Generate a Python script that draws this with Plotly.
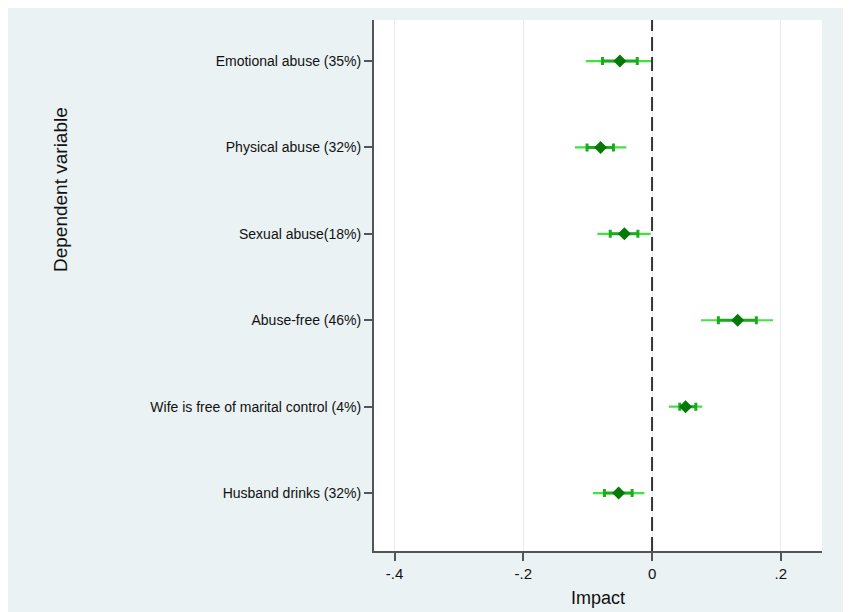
import plotly.graph_objects as go

categories = [
    "Emotional abuse (35%)",
    "Physical abuse (32%)",
    "Sexual abuse(18%)",
    "Abuse-free (46%)",
    "Wife is free of marital control (4%)",
    "Husband drinks (32%)",
]
estimate = [-0.050, -0.080, -0.043, 0.133, 0.052, -0.052]
inner_lo = [-0.077, -0.101, -0.065, 0.103, 0.043, -0.074]
inner_hi = [-0.023, -0.060, -0.022, 0.162, 0.068, -0.031]
outer_lo = [-0.103, -0.120, -0.085, 0.076, 0.026, -0.092]
outer_hi = [-0.001, -0.040, -0.002, 0.188, 0.078, -0.012]

x_ticks = [-0.4, -0.2, 0, 0.2]
x_ticktext = ["-.4", "-.2", "0", ".2"]

W, H = 843, 604
L, R, T, B = 366, 29, 12, 61
pw, ph = W - L - R, H - T - B

def px_x(p):
    return (p - L) / pw

def px_y(p):
    return (H - B - p) / ph

fig = go.Figure()

fig.add_trace(go.Scatter(
    x=estimate, y=categories, mode="markers",
    marker=dict(size=1, color="rgba(0,0,0,0)"),
    error_x=dict(type="data", symmetric=False,
                 array=[h - e for h, e in zip(outer_hi, estimate)],
                 arrayminus=[e - l for l, e in zip(outer_lo, estimate)],
                 color="#40E340", thickness=2.2, width=0),
    hoverinfo="skip", showlegend=False,
))
fig.add_trace(go.Scatter(
    x=estimate, y=categories, mode="markers",
    marker=dict(size=1, color="rgba(0,0,0,0)"),
    error_x=dict(type="data", symmetric=False,
                 array=[h - e for h, e in zip(inner_hi, estimate)],
                 arrayminus=[e - l for l, e in zip(inner_lo, estimate)],
                 color="#1CAB1C", thickness=3, width=4),
    hoverinfo="skip", showlegend=False,
))
fig.add_trace(go.Scatter(
    x=estimate, y=categories, mode="markers",
    marker=dict(symbol="diamond", size=10, color="#057805"),
    showlegend=False,
))

bg = "#EAF2F3"
shapes = [
    dict(type="line", xref="x", yref="paper", x0=0, x1=0, y0=0, y1=1,
         line=dict(color="#333333", width=2, dash="14px,6px"), layer="above"),
]

fig.update_layout(
    width=W, height=H,
    margin=dict(l=L, r=R, t=T, b=B, pad=0, autoexpand=False),
    paper_bgcolor=bg, plot_bgcolor="white",
    font=dict(family="Liberation Sans, Arial, sans-serif", color="#111111", size=14),
    shapes=shapes,
    annotations=[
        dict(text="Dependent variable", xref="paper", yref="paper",
             x=px_x(52), y=px_y(182), textangle=-90, showarrow=False,
             font=dict(size=19), xanchor="center", yanchor="middle"),
    ],
    xaxis=dict(
        range=[-0.432, 0.264], tickvals=x_ticks, ticktext=x_ticktext,
        showgrid=True, gridcolor="#E6EDF0", gridwidth=1.2, zeroline=False,
        showline=True, linecolor="#555555", linewidth=2,
        ticks="outside", ticklen=8, tickwidth=1.5, tickcolor="#555555",
        tickfont=dict(size=15), automargin=False,
        title=dict(text="Impact", font=dict(size=18), standoff=10),
    ),
    yaxis=dict(
        type="category", categoryorder="array", categoryarray=categories,
        range=[5.671, -0.475], showgrid=False, zeroline=False,
        showline=True, linecolor="#555555", linewidth=2,
        ticks="outside", ticklen=8, tickwidth=1.5, tickcolor="#555555",
        tickfont=dict(size=14), automargin=False,
    ),
)

fig.write_html("out.html")
